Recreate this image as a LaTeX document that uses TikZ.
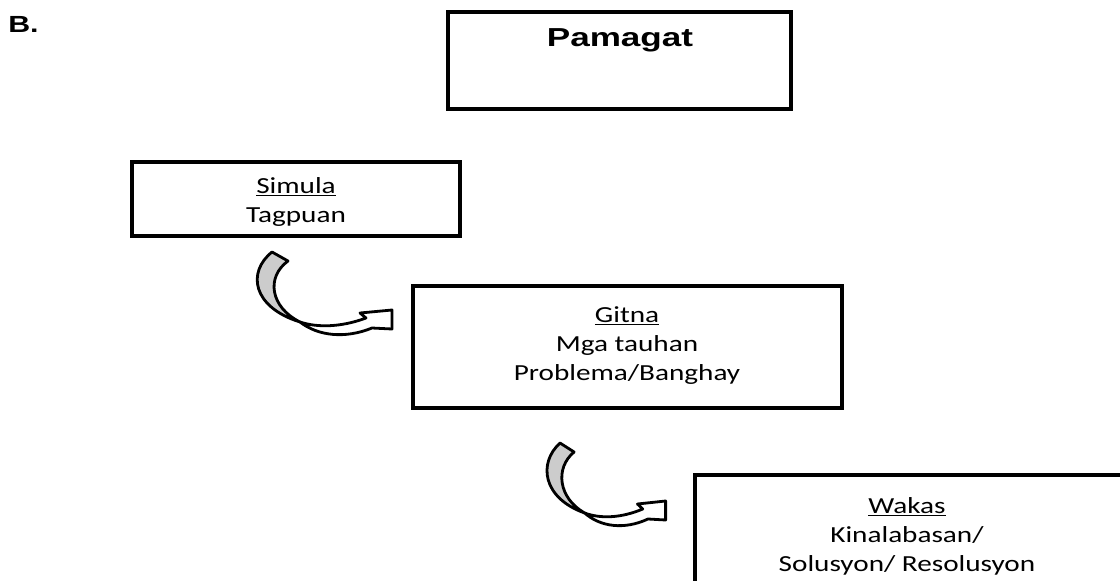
\documentclass[tikz,border=0pt]{standalone}
\usepackage{fontspec}
\setmainfont{Carlito}
\newfontfamily\headfont{Liberation Sans}
\usetikzlibrary{fit}

\newcommand{\stagelines}[1]{\scalebox{1.27}[1]{\begin{tabular}[t]{@{}c@{}}#1\end{tabular}}}

\begin{document}
\begin{tikzpicture}[x=0.75pt,y=0.75pt,yscale=-1,xscale=1,
  stage/.style={draw, line width=2.4pt, inner sep=0pt},
  stagetext/.style={anchor=base, inner sep=0pt, font=\fontsize{17.25}{21.75}\selectfont},
  headtext/.style={anchor=base, inner sep=0pt, font=\headfont\bfseries\fontsize{19.5}{23}\selectfont},
  arrowline/.style={draw=black, line width=2.1pt, line join=round},
  bentarrow/.pic={
    % back of the ribbon
    \draw[arrowline, fill=gray!40] (0,0) .. controls (-25,20) and (-20,55) .. (28,70) .. controls (-2,55) and (-6,25) .. (16,9) -- cycle;
    % front of the ribbon and head
    \draw[arrowline, fill=white] (28,70) .. controls (46,84) and (73,87) .. (100,76) -- (120,77) -- (120,58) -- (88,61) -- (94,66) .. controls (70,75) and (46,76) .. (28,70) -- cycle;
  }
]
\useasboundingbox (0,0) rectangle (1120,581);
\clip (0,0) rectangle (1120,581);

% Title
\node[headtext, anchor=base west, font=\headfont\bfseries\fontsize{17.5}{20}\selectfont] (partb) at (8,33) {\scalebox{1.3}[1]{B.}};
\node[stage, fit={(448,12) (791,109)}] (pamagat) {};
\node[headtext] (pamagat-t) at (620,47) {\scalebox{1.35}[1]{Pamagat}};

% Stages
\node[stage, fit={(132,162) (460,236)}] (simula) {};
\node[stagetext] (simula-t) at (296,193) {\stagelines{\underline{Simula}\\Tagpuan}};

\node[stage, fit={(413,286) (842,408)}] (gitna) {};
\node[stagetext] (gitna-t) at (627,322) {\stagelines{\underline{Gitna}\\Mga tauhan\\Problema/Banghay}};

\node[stage, fit={(695,475) (1130,600)}] (wakas) {};
\node[stagetext] (wakas-t) at (907,513) {\stagelines{\underline{Wakas}\\Kinalabasan/\\Solusyon/ Resolusyon}};

% Curved arrows
\pic[yscale=-1] at (272,252) {bentarrow};
\pic[xscale=0.88,yscale=-1] at (560,443) {bentarrow};

\end{tikzpicture}
\end{document}
